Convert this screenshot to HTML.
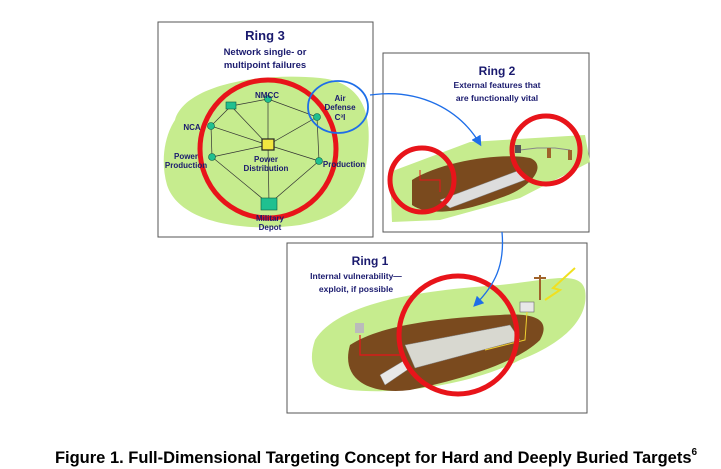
<!DOCTYPE html>
<html><head><meta charset="utf-8"><style>
body{margin:0;background:#fff;width:721px;height:469px;overflow:hidden}
svg{display:block}
text{font-family:"Liberation Sans",sans-serif;font-weight:bold;fill:#1a1a6e}
</style></head><body>
<svg width="721" height="469" viewBox="0 0 721 469" xmlns="http://www.w3.org/2000/svg">
<defs>
<marker id="ah" markerWidth="8" markerHeight="8" refX="6" refY="4" orient="auto"><path d="M0,0 L8,4 L0,8 z" fill="#1e6ee8"/></marker>
</defs>
<!-- Ring 3 panel -->
<rect x="158" y="22" width="215" height="215" fill="#fff" stroke="#555" stroke-width="1"/>
<text x="265" y="40" font-size="13" text-anchor="middle">Ring 3</text>
<text x="265" y="55" font-size="9.5" text-anchor="middle">Network single- or</text>
<text x="265" y="68" font-size="9.5" text-anchor="middle">multipoint failures</text>
<path d="M175,120 C185,85 260,72 320,78 C360,82 372,110 368,150 C365,190 350,215 300,225 C250,232 180,225 167,185 C160,160 165,135 175,120 Z" fill="#c6ec8e"/>
<ellipse cx="268" cy="149" rx="68" ry="69" fill="none" stroke="#e8141a" stroke-width="5"/>
<g stroke="#333" stroke-width="0.7" fill="none">
<path d="M231,106 L268,99 L317,117 L319,161 L269,204 L212,157 L211,126 Z"/>
<path d="M231,106 L268,145 M268,99 L268,145 M317,117 L268,145 M319,161 L268,145 M269,204 L268,145 M212,157 L268,145 M211,126 L268,145"/>
</g>
<g fill="#20c090" stroke="#0a5a40" stroke-width="0.6">
<circle cx="268" cy="99" r="3.5"/><rect x="226" y="102" width="10" height="7"/>
<circle cx="211" cy="126" r="3.5"/><circle cx="317" cy="117" r="3.5"/>
<circle cx="212" cy="157" r="3.5"/><circle cx="319" cy="161" r="3.5"/>
<rect x="261" y="198" width="16" height="12"/>
</g>
<rect x="262" y="139" width="12" height="11" fill="#f2e640" stroke="#222" stroke-width="1.2"/>
<g font-size="8">
<text x="267" y="98" text-anchor="middle">NMCC</text>
<text x="192" y="130" text-anchor="middle">NCA</text>
<text x="186" y="159" text-anchor="middle">Power</text>
<text x="186" y="168" text-anchor="middle">Production</text>
<text x="266" y="162" text-anchor="middle">Power</text>
<text x="266" y="171" text-anchor="middle">Distribution</text>
<text x="344" y="167" text-anchor="middle">Production</text>
<text x="270" y="221" text-anchor="middle">Military</text>
<text x="270" y="230" text-anchor="middle">Depot</text>
<text x="340" y="101" text-anchor="middle">Air</text>
<text x="340" y="110" text-anchor="middle">Defense</text>
<text x="340" y="120" text-anchor="middle">C³I</text>
</g>
<ellipse cx="338" cy="107" rx="30" ry="26" fill="none" stroke="#1e6ee8" stroke-width="1.8"/>
<!-- Ring 2 panel -->
<rect x="383" y="53" width="206" height="179" fill="#fff" stroke="#555" stroke-width="1"/>
<text x="497" y="75" font-size="12" text-anchor="middle">Ring 2</text>
<text x="497" y="88" font-size="8.5" text-anchor="middle">External features that</text>
<text x="497" y="101" font-size="8.5" text-anchor="middle">are functionally vital</text>
<path d="M390,172 L470,142 L585,135 L590,162 L520,198 L440,220 L392,222 Z" fill="#c6ec8e"/>
<path d="M412,180 C440,162 500,152 530,158 C548,165 532,188 500,198 C470,210 430,218 412,205 Z" fill="#7a4a1e"/>
<path d="M440,200 L520,170 L530,178 L450,208 Z" fill="#ddd" stroke="#888" stroke-width="0.5"/>
<path d="M420,170 L420,180 L440,180 L440,192" stroke="#e8141a" fill="none" stroke-width="1"/>
<path d="M520,150 L537,148 L555,148 L570,150" stroke="#888" fill="none"/>
<rect x="515" y="145" width="6" height="8" fill="#555"/><rect x="547" y="148" width="4" height="10" fill="#a0622a"/><rect x="568" y="150" width="4" height="10" fill="#a0622a"/>
<circle cx="422" cy="180" r="32" fill="none" stroke="#e8141a" stroke-width="5"/>
<circle cx="546" cy="150" r="34" fill="none" stroke="#e8141a" stroke-width="5"/>
<!-- Ring 1 panel -->
<rect x="287" y="243" width="300" height="170" fill="#fff" stroke="#555" stroke-width="1"/>
<text x="370" y="265" font-size="12" text-anchor="middle">Ring 1</text>
<text x="356" y="279" font-size="8.5" text-anchor="middle">Internal vulnerability—</text>
<text x="356" y="292" font-size="8.5" text-anchor="middle">exploit, if possible</text>
<path d="M315,340 C340,300 430,290 500,285 C550,280 580,270 585,290 C590,320 560,345 520,360 C470,385 400,395 350,390 C320,385 305,370 315,340 Z" fill="#c6ec8e"/>
<path d="M350,345 C380,325 440,318 500,315 C540,312 550,322 540,340 C520,360 470,378 410,390 C370,395 340,380 350,345 Z" fill="#7a4a1e"/>
<path d="M405,345 L510,325 L520,340 L415,368 Z" fill="#d8d8d0" stroke="#888" stroke-width="0.5"/>
<path d="M380,375 L405,360 L410,368 L385,385 Z" fill="#e8e8e8" stroke="#888" stroke-width="0.5"/>
<path d="M360,335 L360,355 L400,355" stroke="#e8141a" stroke-width="1.2" fill="none"/>
<rect x="355" y="323" width="9" height="10" fill="#bbb"/>
<rect x="520" y="302" width="14" height="10" fill="#e8e8e8" stroke="#666" stroke-width="0.6"/>
<path d="M527,312 L525,340 L485,350" stroke="#f0d030" fill="none" stroke-width="1"/>
<path d="M540,300 L540,275 M534,278 L546,278" stroke="#a0622a" stroke-width="2"/>
<path d="M575,268 L553,288 L560,290 L545,300" stroke="#f0e020" stroke-width="2" fill="none"/>
<circle cx="458" cy="335" r="59" fill="none" stroke="#e8141a" stroke-width="5"/>
<!-- arrows -->
<path d="M370,95 C420,88 460,110 480,144" stroke="#1e6ee8" stroke-width="1.3" fill="none" marker-end="url(#ah)"/>
<path d="M502,232 C505,265 495,285 475,305" stroke="#1e6ee8" stroke-width="1.3" fill="none" marker-end="url(#ah)"/>
<!-- caption -->
<text x="376" y="463" font-size="16.5" text-anchor="middle" style="fill:#000">Figure 1.  Full-Dimensional Targeting Concept for Hard and Deeply Buried Targets<tspan font-size="10" dy="-8">6</tspan></text>
</svg>
</body></html>
